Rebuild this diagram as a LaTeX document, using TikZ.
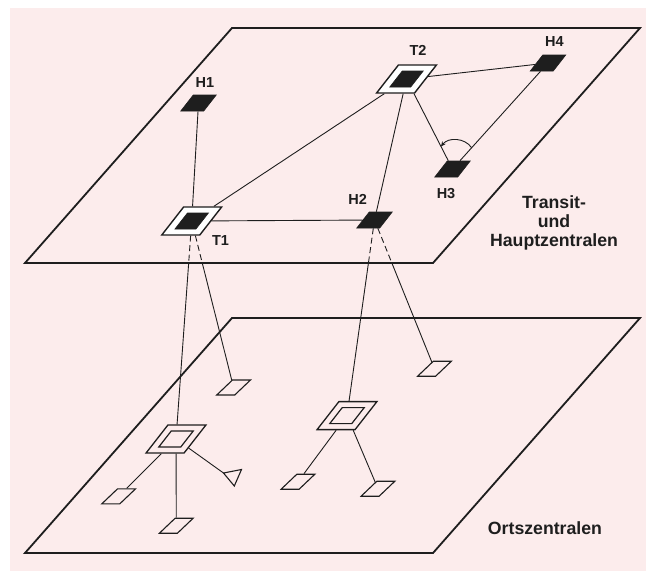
\documentclass[tikz,border=0pt]{standalone}
\usepackage{fontspec}
\setmainfont{Liberation Sans}
\usetikzlibrary{positioning,calc,arrows.meta}
\definecolor{paper}{RGB}{252,236,236}
\definecolor{ink}{RGB}{30,30,30}

\begin{document}
\begin{tikzpicture}[x=1pt, y=-1pt, ink, >={Stealth[length=5pt,width=4.5pt]},
		plane/.style={draw=ink, line width=1.8pt, line join=miter},
		wire/.style={draw=ink, line width=0.9pt},
		hub/.style={draw=ink, fill=ink, line width=0.6pt, xslant=0.78, minimum width=23pt, minimum height=16pt, inner sep=0pt},
		transit/.style={draw=ink, fill=white, line width=1.4pt, xslant=0.78, minimum width=38pt, minimum height=28pt, inner sep=0pt},
		core/.style={hub, minimum width=21pt, minimum height=16pt},
		local/.style={draw=ink, line width=1.3pt, xslant=0.78, minimum width=38pt, minimum height=28pt, inner sep=0pt},
		localin/.style={local, line width=1.2pt, minimum width=22pt, minimum height=16pt},
		leaf/.style={draw=ink, line width=1.1pt, xslant=1.05, minimum width=18pt, minimum height=15pt, inner sep=0pt},
		tag/.style={text=ink, font=\bfseries\fontsize{14.5}{16}\selectfont, inner sep=0pt},
		title/.style={text=ink, font=\bfseries\fontsize{17.7}{19}\selectfont, inner sep=0pt, align=center}]
		\fill[white] (0,0) rectangle (646,571);
		\fill[paper] (10,8) rectangle (646,571);
		\useasboundingbox (0,0) rectangle (646,571);
		%%
		\coordinate (tTL) at (232,28);
		\coordinate (tTR) at (640,28);
		\coordinate (tBR) at (433,263);
		\coordinate (tBL) at (25,263);
		\draw[plane] (tTL) -- (tTR) -- (tBR) -- (tBL) -- cycle;
		\draw[plane] (232,318) -- (640,318) -- (433,553) -- (25,553) -- cycle;
		%%
		\node[hub] (H1) at (198.5,103) {};
		\node[hub] (H2) at (374.5,220) {};
		\node[hub] (H3) at (452.5,169) {};
		\node[hub] (H4) at (548,63) {};
		\node[transit] (T1) at (191.7,221) {};
		\node[core] (T1c) at (T1) {};
		\node[transit] (T2) at (406.5,79) {};
		\node[core] (T2c) at (T2) {};
		%%
		\node[local] (O1) at (176,439) {};
		\node[localin] (O1c) at (O1) {};
		\node[local] (O2) at (347,415.6) {};
		\node[localin] (O2c) at (O2) {};
		\node[leaf] (a1) at (233.6,387.5) {};
		\node[leaf] (a2) at (434.5,368.7) {};
		\node[leaf] (b1) at (118.6,496.4) {};
		\node[leaf] (b2) at (176.3,525.7) {};
		\node[leaf] (c1) at (298,481.7) {};
		\node[leaf] (c2) at (378,488.7) {};
		\coordinate (tri) at (223.5,473);
		\draw[wire, line width=1.1pt, line join=miter] (tri) -- (241.5,469.5) -- (234.3,486) -- cycle;
		%%
		\draw[wire] (T1) -- (H1);
		\draw[wire] (T1) -- (T2);
		\draw[wire] (T1) -- (H2);
		\draw[wire] (T2) -- (H2);
		\draw[wire] (T2) -- (H4);
		\draw[wire] (T2) -- (H3);
		\draw[wire] (H4) -- (H3);
		\coordinate (angR) at ($(H3)!0.2!(H4)$);
		\coordinate (angL) at ($(H3)!0.25!(T2)$);
		\draw[wire, ->] (angR) to[bend right=55] (angL);
		%%
		\coordinate (x1) at (intersection of T1--O1 and tBL--tBR);
		\coordinate (x2) at (intersection of T1--a1 and tBL--tBR);
		\coordinate (x3) at (intersection of H2--O2 and tBL--tBR);
		\coordinate (x4) at (intersection of H2--a2 and tBL--tBR);
		\draw[wire, dash pattern=on 6pt off 3.5pt] (T1) -- (x1);
		\draw[wire, dash pattern=on 6pt off 3.5pt] (T1) -- (x2);
		\draw[wire, dash pattern=on 6pt off 3.5pt] (H2) -- (x3);
		\draw[wire, dash pattern=on 6pt off 3.5pt] (H2) -- (x4);
		\draw[wire] (x1) -- (O1);
		\draw[wire] (x2) -- (a1);
		\draw[wire] (x3) -- (O2);
		\draw[wire] (x4) -- (a2);
		%%
		\draw[wire] (O1) -- (b1);
		\draw[wire] (O1) -- (b2);
		\draw[wire] (O1) -- (tri);
		\draw[wire] (O2) -- (c1);
		\draw[wire] (O2) -- (c2);
		%%
		\node[tag, above=7pt of H1] (lH1) {H1};
		\node[tag, above left=7pt and 2pt of H2] (lH2) {H2};
		\node[tag, below=11pt of H3] (lH3) {H3};
		\node[tag, above=8pt of H4] (lH4) {H4};
		\node[tag, below right=0pt and 12pt of T1] (lT1) {T1};
		\node[tag, above=8.3pt of T2] (lT2) {T2};
		\node[title, anchor=north] (tTop) at (554,195) {Transit-\\und\\Hauptzentralen};
		\node[title, anchor=north] (tBot) at (545,521.7) {Ortszentralen};
	\end{tikzpicture}
\end{document}
